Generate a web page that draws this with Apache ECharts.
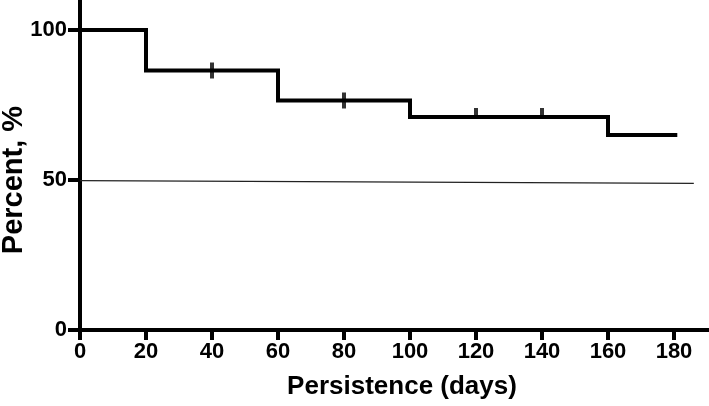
<!DOCTYPE html>
<html><head><meta charset="utf-8">
<script src="https://cdn.jsdelivr.net/npm/echarts@6/dist/echarts.min.js"></script>
<style>html,body{margin:0;padding:0;background:#fff}#c{width:709px;height:406px}</style>
</head><body><div id="c"></div>
<script>
const stepDays = [0, 20, 60, 100, 160, 181];
const stepPercent = [100, 86.5, 76.5, 71, 65, 65];
const censorTallDays = [40, 80];
const censorTallPercent = [86.5, 76.5];
const censorShortDays = [120, 140];
const censorShortPercent = [71, 71];
const refLineDays = [0, 186];
const refLinePercent = [49.8, 48.9];
const xTicks = [0, 20, 40, 60, 80, 100, 120, 140, 160, 180];
const yTicks = [0, 50, 100];

const font = "'Liberation Sans',Arial,sans-serif";
const chart = echarts.init(document.getElementById('c'));
chart.setOption({
  animation: false,
  grid: {left: 80, right: -31, top: -120, bottom: 76, containLabel: false, outerBoundsMode: 'none'},
  xAxis: {
    type: 'value', min: 0, max: 200, interval: 20,
    name: 'Persistence (days)', nameLocation: 'middle', nameGap: 44, nameMoveOverlap: false,
    nameTextStyle: {fontFamily: font, fontWeight: 'bold', fontSize: 26, color: '#000', padding: [0, 16, 0, 0]},
    axisLine: {show: true, lineStyle: {color: '#000', width: 4}},
    axisTick: {show: true, inside: false, length: 10, lineStyle: {color: '#000', width: 4}},
    axisLabel: {customValues: xTicks, fontFamily: font, fontWeight: 'bold', fontSize: 22, color: '#000', margin: 11},
    splitLine: {show: false}
  },
  yAxis: {
    type: 'value', min: 0, max: 150, interval: 50,
    name: 'Percent, %', nameLocation: 'middle', nameGap: 52, nameMoveOverlap: false,
    nameTextStyle: {fontFamily: font, fontWeight: 'bold', fontSize: 29, color: '#000', padding: [0, 150, 0, 0]},
    axisLine: {show: true, lineStyle: {color: '#000', width: 4}},
    axisTick: {show: true, inside: false, length: 12, lineStyle: {color: '#000', width: 4}},
    axisLabel: {customValues: yTicks, fontFamily: font, fontWeight: 'bold', fontSize: 22, color: '#000', margin: 13},
    splitLine: {show: false}
  },
  series: [
    {type: 'line', data: refLineDays.map((d, i) => [d, refLinePercent[i]]), symbol: 'none',
     lineStyle: {color: '#222', width: 1.2}, z: 1},
    {type: 'line', step: 'end', data: stepDays.map((d, i) => [d, stepPercent[i]]), symbol: 'none',
     lineStyle: {color: '#000', width: 4, cap: 'butt', join: 'miter'}, z: 3},
    {type: 'scatter', data: censorTallDays.map((d, i) => [d, censorTallPercent[i]]),
     symbol: 'rect', symbolSize: [4, 16], itemStyle: {color: '#000'}, z: 4},
    {type: 'scatter', data: censorShortDays.map((d, i) => [d, censorShortPercent[i]]),
     symbol: 'rect', symbolSize: [4, 10], symbolOffset: [0, -4], itemStyle: {color: '#000'}, z: 4}
  ]
});
</script></body></html>
